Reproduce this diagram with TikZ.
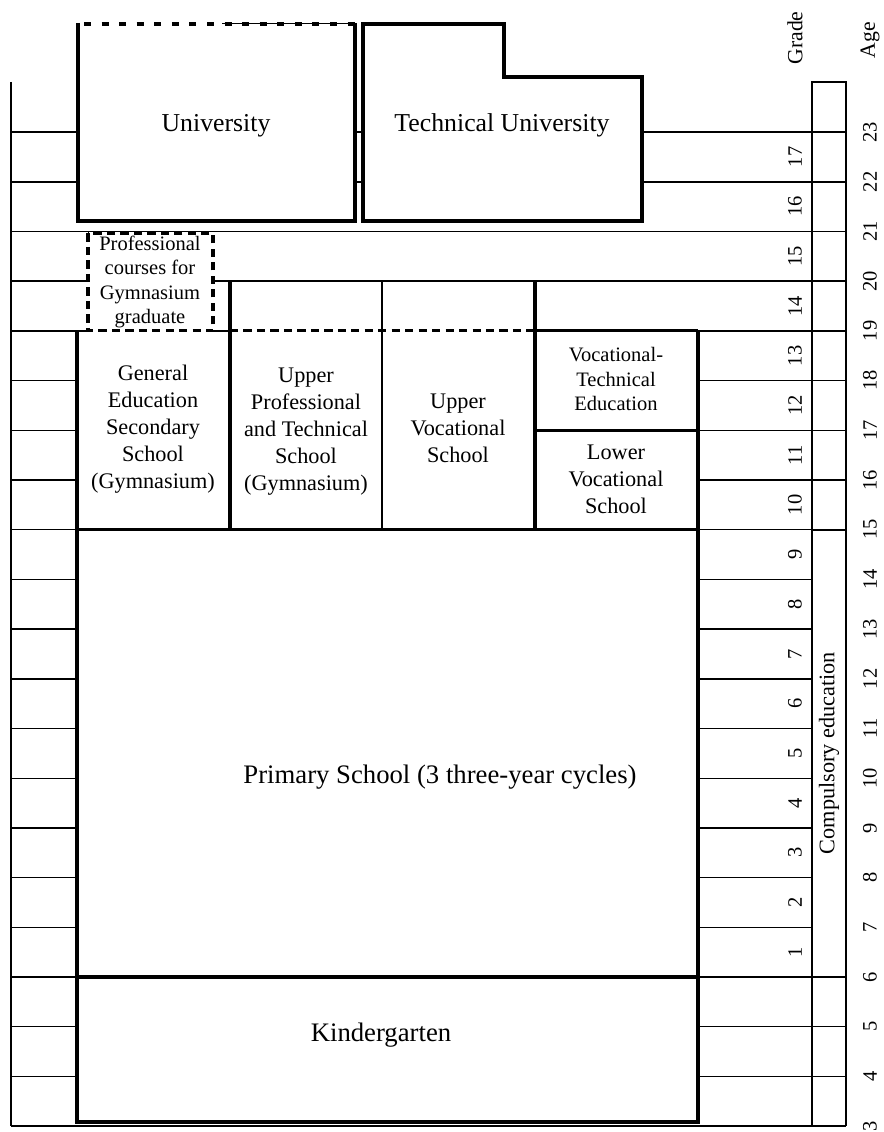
\documentclass[tikz,border=0pt]{standalone}
\usepackage{fontspec}
\setmainfont{Liberation Serif}
\begin{document}
\begin{tikzpicture}[x=0.03cm,y=-0.03cm,
  thin line/.style={line width=1.2pt},
  mid line/.style={line width=1.6pt},
  thick line/.style={line width=2.6pt},
  dash line/.style={line width=2.6pt, dash pattern=on 7pt off 4.5pt},
  bigtext/.style={font=\fontsize{22}{25}\selectfont, align=center, inner sep=0pt},
  midtext/.style={font=\fontsize{19}{23}\selectfont, align=center, inner sep=0pt},
  smalltext/.style={font=\fontsize{17.5}{20.5}\selectfont, align=center, inner sep=0pt},
  num/.style={font=\fontsize{17.5}{20}\selectfont, rotate=90, inner sep=0pt}]
\useasboundingbox (0,0) rectangle (883,1132);
% age grid
\foreach \a in {3,...,23}
  \draw[thin line] (11,{977-(\a-6)*49.7}) -- (846,{977-(\a-6)*49.7});
\draw[mid line] (11,82) -- (11,1126.1);
\draw[mid line] (812,1126.1) -- (812,82) -- (846,82) -- (846,1126.1);
% white insides of the schools
\fill[white] (78,24) rectangle (355,221);
\fill[white] (363,221) -- (363,24) -- (504,24) -- (504,77) -- (642,77) -- (642,221) -- cycle;
\fill[white] (88,233.5) rectangle (213,330);
\fill[white] (77,329) rectangle (698,1122);
\fill[white] (812,529.7) rectangle (846,977);
% university and technical university
\draw[thin line] (222,23.5) -- (355,23.5);
\draw[line width=3pt, dash pattern=on 6pt off 9pt] (84,24) -- (355,24);
\draw[thick line] (78,23) -- (78,221) -- (355,221) -- (355,23);
\draw[thick line] (363,221) -- (363,24) -- (504,24) -- (504,77) -- (642,77) -- (642,221) -- cycle;
% secondary level
\draw[thin line] (77,330.9) -- (88,330.9);
\draw[thin line] (213,330.9) -- (230,330.9);
\draw[dash line] (88,233.5) rectangle (213,330.9);
\draw[dash line] (230,330.9) -- (535,330.9);
\draw[thick line] (230,281.2) -- (230,529.7);
\draw[line width=1.8pt] (382,281.2) -- (382,529.7);
\draw[thick line] (535,281.2) -- (535,529.7);
\draw[thick line] (535,330.9) -- (698,330.9);
\draw[thick line] (535,430.3) -- (698,430.3);
% primary and kindergarten
\draw[thick line] (77,330.9) -- (77,1122) -- (698,1122) -- (698,330.9);
\draw[thick line] (77,529.7) -- (698,529.7);
\draw[thick line] (77,977) -- (698,977);
\draw[mid line] (812,529.7) rectangle (846,977);
% texts
\node[bigtext] (univ) at (216,126) {University};
\node[bigtext] (techuniv) at (502,125) {Technical University};
\node[smalltext] (profcourses) at (150,282) {Professional\\courses for\\Gymnasium\\graduate};
\node[midtext] (gensec) at (153,429) {General\\Education\\Secondary\\School\\(Gymnasium)};
\node[midtext] (upperprof) at (306,432) {Upper\\Professional\\and Technical\\School\\(Gymnasium)};
\node[midtext] (uppervoc) at (458,428) {Upper\\Vocational\\School};
\node[smalltext] (voctech) at (616,379) {Vocational-\\Technical\\Education};
\node[midtext] (lowervoc) at (616,479) {Lower\\Vocational\\School};
\node[bigtext, font=\fontsize{22.8}{26}\selectfont] (primary) at (440,777) {Primary School (3 three-year cycles)};
\node[bigtext, font=\fontsize{22.8}{26}\selectfont] (kinder) at (381,1035) {Kindergarten};
\node[midtext, rotate=90] (compulsory) at (829,753) {Compulsory education};
\node[num, font=\fontsize{18.5}{22}\selectfont] (gradehead) at (795,38) {Grade};
\node[num, font=\fontsize{18.5}{22}\selectfont] (agehead) at (870,40) {Age};
\foreach \g in {1,...,17}
  \node[num] (grade-\g) at (795,{977-(\g-0.5)*49.7}) {\g};
\foreach \a in {3,...,23}
  \node[num] (age-\a) at (870,{977-(\a-6)*49.7}) {\a};
\end{tikzpicture}
\end{document}
